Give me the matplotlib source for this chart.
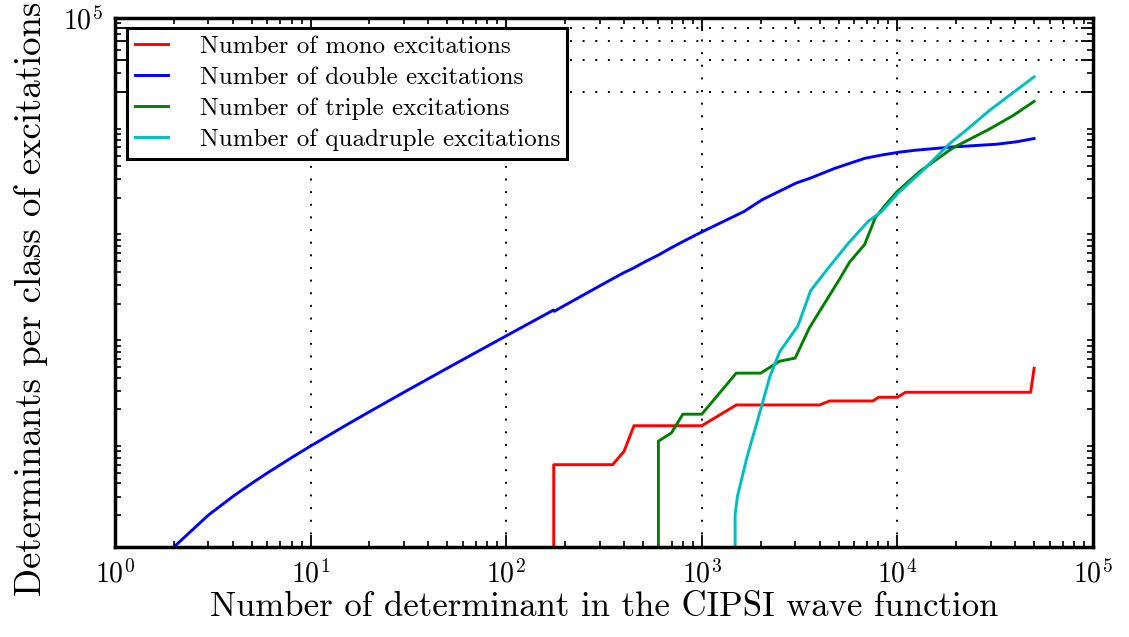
import matplotlib
matplotlib.use('Agg')
import matplotlib.pyplot as plt
from matplotlib.ticker import FixedLocator, FixedFormatter, LogLocator, NullFormatter

plt.rcParams['font.family'] = 'cmr10'
plt.rcParams['mathtext.fontset'] = 'cm'
plt.rcParams['axes.unicode_minus'] = False
plt.rcParams['axes.formatter.use_mathtext'] = True

# number of determinants in the wave function (x) and count per excitation class (y)
mono_n = [173, 175, 350, 400, 450, 1000, 1500, 4000, 4500, 7500, 8000, 10000, 11000, 48000, 50000]
mono = [0, 6, 6, 8, 14, 14, 22, 22, 24, 24, 26, 26, 29, 29, 49]

double_n = [2, 3, 4, 5, 6, 8, 10, 15, 20, 30, 50, 70, 100, 150, 174, 176, 200, 300, 350,
            400, 450, 500, 600, 700, 800, 1000, 1640, 2040, 3030, 3610, 4780, 6820, 8320,
            10350, 12390, 19140, 32060, 40630, 50000]
double = [1, 2, 3, 4, 5, 7, 9, 14, 19, 29, 49, 69, 99, 149, 173, 169, 193, 293, 343,
          392, 435, 485, 575, 675, 770, 950, 1480, 1920, 2750, 3080, 3790, 4720, 5070,
          5410, 5630, 6040, 6410, 6760, 7260]

triple_n = [588, 600, 700, 800, 1000, 1500, 2000, 2500, 3000, 3550, 5070, 5700, 6800,
            7700, 8700, 10000, 13100, 19100, 29600, 39000, 50000]
triple = [0, 10, 12, 18, 18, 44, 44, 57, 61, 118, 342, 494, 723, 1290, 1715, 2300, 3580,
          5880, 8930, 11960, 16300]

quad_n = [1460, 1480, 1520, 1700, 2000, 2230, 2500, 3100, 3600, 4400, 5600, 7100, 8300,
          10100, 13400, 18400, 23400, 29600, 40600, 50000]
quad = [0, 2, 3, 7, 20, 41, 70, 123, 265, 426, 740, 1200, 1480, 2220, 3580, 6440, 9270,
        13400, 20800, 27800]

y_major = [2e4, 4e4, 6e4, 8e4, 1e5]
y_major_labels = ['', '', '', '', r'$10^5$']

fig = plt.figure(figsize=(11.29, 6.37), dpi=100)
ax = fig.add_axes([115 / 1129, 90 / 637, 978 / 1129, 529 / 637])

lw = 2.1
ax.plot(mono_n, mono, color='#ff0000', lw=lw, label='Number of mono excitations')
ax.plot(double_n, double, color='#0000ff', lw=lw, label='Number of double excitations')
ax.plot(triple_n, triple, color='#008000', lw=lw, label='Number of triple excitations')
ax.plot(quad_n, quad, color='#00bfbf', lw=lw, label='Number of quadruple excitations')

ax.set_xscale('log')
ax.set_yscale('log', nonpositive='clip')
ax.set_xlim(1, 1e5)
ax.set_ylim(1, 1e5)

ax.yaxis.set_major_locator(FixedLocator(y_major))
ax.yaxis.set_major_formatter(FixedFormatter(y_major_labels))
ax.yaxis.set_minor_locator(LogLocator(base=10, subs=range(2, 10), numticks=30))
ax.yaxis.set_minor_formatter(NullFormatter())
ax.xaxis.set_minor_locator(LogLocator(base=10, subs=range(2, 10), numticks=30))
ax.xaxis.set_minor_formatter(NullFormatter())

ax.tick_params(which='both', direction='in', top=True, right=True, labelsize=20)
ax.tick_params(which='major', length=9, width=1.3, pad=9)
ax.tick_params(which='minor', length=4.5, width=1.2)
for s in ax.spines.values():
    s.set_linewidth(2.5)

ax.grid(True, which='major', linestyle=(0, (1, 5.5)), color='k', linewidth=1.4)

ax.set_xlabel('Number of determinant in the CIPSI wave function', fontsize=25, labelpad=2)
ax.set_ylabel('Determinants per class of excitations', fontsize=26.5)
ax.yaxis.set_label_coords(-0.0685, 0.4700)

leg = ax.legend(loc='upper left', bbox_to_anchor=(12 / 978, 1 - 10 / 529), borderaxespad=0,
                fontsize=18, fancybox=False, framealpha=1, edgecolor='k',
                handlelength=1.32, handletextpad=1.28, labelspacing=0.34, borderpad=0.3)
leg.get_frame().set_linewidth(2.2)

fig.savefig('out.png', dpi=100, facecolor='white')
